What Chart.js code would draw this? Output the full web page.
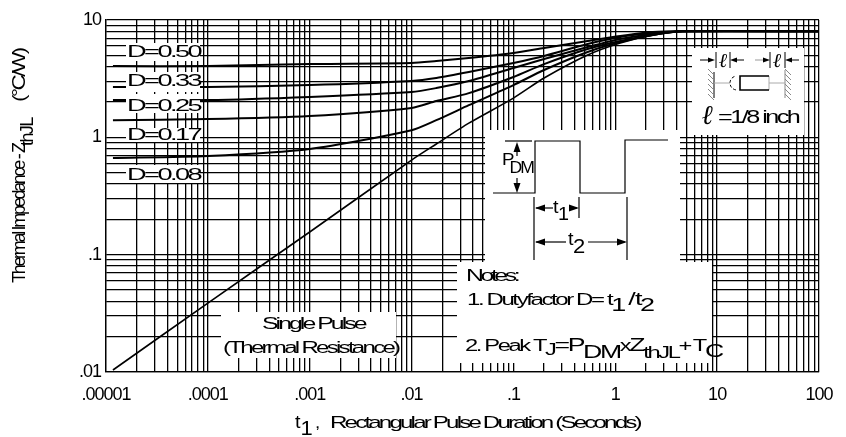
<!DOCTYPE html>
<html>
<head>
<meta charset="utf-8">
<style>
  html, body { margin: 0; padding: 0; background: #fff; }
  #wrap { width: 846px; height: 437px; }
</style>
<script src="https://cdn.jsdelivr.net/npm/chart.js@4"></script>
</head>
<body>
<div id="wrap"><canvas id="chart" width="846" height="437"></canvas></div>
<script>
const xTickLabels = ['.00001', '.0001', '.001', '.01', '.1', '1', '10', '100'];
const yTickLabels = ['.01', '.1', '1', '10'];
const dutyLabels = ['D=0.50', 'D=0.33', 'D=0.25', 'D=0.17', 'D=0.08'];

// seconds
const t1 = [0.0000117, 0.0001, 0.001, 0.01, 0.0175, 0.0365, 0.1, 0.2, 0.535, 1.12, 2.34, 4.6, 100];
const d50 = [4.05, 4.05, 4.21, 4.30, 4.47, 4.74, 5.23, 5.77, 6.62, 7.31, 7.90, 8, 8];
const d33 = [2.69, 2.69, 2.79, 3.02, 3.20, 3.60, 4.30, 4.93, 6.24, 7.17, 7.75, 8, 8];
const d25 = [2.08, 2.08, 2.21, 2.43, 2.63, 3.02, 3.90, 4.65, 5.88, 6.89, 7.60, 8, 8];
const d17 = [1.40, 1.43, 1.52, 1.78, 2.04, 2.38, 3.27, 4.21, 5.66, 6.62, 7.45, 8, 8];
const d08 = [0.666, 0.693, 0.795, 1.15, 1.40, 1.88, 2.79, 3.75, 5.34, 6.49, 7.45, 8, 8];
const single = [0.0104, 0.0387, 0.156, 0.64, 0.877, 1.32, 2.16, 3.20, 5.03, 6.37, 7.45, 8, 8];

const allSeries = [d50, d33, d25, d17, d08, single];
const widths = [2, 2, 2, 2, 2, 1.6];

const FONT = '"Liberation Sans", Arial, sans-serif';

function decadeTicks(first, last) {
    const ticks = [];
    for (let e = first; e < last; e++) {
        for (let m = 1; m < 10; m++) {
            ticks.push({ value: Number(m + 'e' + e) });
        }
    }
    ticks.push({ value: Number('1e' + last) });
    return ticks;
}

// text with sub/superscript pieces: [string, size, dy, extra gap]
function runs(ctx, x, y, list, spacing, hscale) {
    ctx.save();
    ctx.translate(x, y);
    ctx.scale(hscale || 1, 1);
    ctx.fillStyle = '#000';
    ctx.textAlign = 'left';
    ctx.textBaseline = 'alphabetic';
    ctx.letterSpacing = (spacing === undefined ? -1 : spacing) + 'px';
    let cx = 0;
    for (const r of list) {
        ctx.font = r[1] + 'px ' + FONT;
        ctx.fillText(r[0], cx, r[2] || 0);
        cx += ctx.measureText(r[0]).width + (r[3] || 0);
    }
    ctx.restore();
}

function arrowHead(ctx, x, y, dx, dy, len) {
    const l = len || 10, w = l * 0.35;
    ctx.beginPath();
    ctx.moveTo(x, y);
    ctx.lineTo(x - dx * l - dy * w, y - dy * l - dx * w);
    ctx.lineTo(x - dx * l + dy * w, y - dy * l + dx * w);
    ctx.closePath();
    ctx.fill();
}

function segs(ctx, pts) {
    ctx.beginPath();
    pts.forEach((p, i) => i ? ctx.lineTo(p[0], p[1]) : ctx.moveTo(p[0], p[1]));
    ctx.stroke();
}

const overlay = {
    id: 'overlay',
    beforeDraw(chart) {
        chart.ctx.letterSpacing = '-1px';
    },
    afterDatasetsDraw(chart) {
        const ctx = chart.ctx;
        ctx.save();
        ctx.letterSpacing = '0px';

        // white boxes over the grid
        ctx.fillStyle = '#fff';
        [[126, 43, 74, 18], [126, 72, 74, 20], [126, 94, 74, 19], [126, 128, 74, 14], [126, 165, 74, 18],
         [692, 48, 112, 87], [485, 130, 195, 132], [457, 262, 255, 101], [221, 312, 175, 46]
        ].forEach(b => ctx.fillRect(b[0], b[1], b[2], b[3]));

        // duty labels
        [57, 86, 111, 140, 180].forEach((y, i) => runs(ctx, 127, y, [[dutyLabels[i], 17]], -1.6, 1.6));

        runs(ctx, 262, 329, [['Single Pulse', 16]], -1.9, 1.55);
        runs(ctx, 223, 353, [['(Thermal Resistance)', 16]], -1.8, 1.5);

        runs(ctx, 466, 281, [['Notes:', 16]], -2.2, 1.55);
        runs(ctx, 467, 305, [['1. Dutyfactor D= t', 16], ['1', 18, 6, 3], ['/', 18, 0, 1], ['t', 18, 0], ['2', 18, 6]], -1.6, 1.5);
        runs(ctx, 465, 351, [['2. Peak T', 16], ['J', 16, 4], ['=P', 18], ['DM', 18, 7], ['x', 16], ['Z', 18], ['thJL', 16, 7], ['+', 16, 0, 2], ['T', 16], ['C', 18, 6]], -1.6, 1.48);

        // pulse waveform
        ctx.strokeStyle = '#000';
        ctx.fillStyle = '#000';
        ctx.lineWidth = 1.2;
        segs(ctx, [[493, 193], [535, 193], [535, 141], [580, 141], [580, 193], [625, 193], [625, 140], [668, 140]]);
        segs(ctx, [[505, 141], [532, 141]]);
        segs(ctx, [[517, 150], [517, 156]]);
        segs(ctx, [[517, 178], [517, 184]]);
        arrowHead(ctx, 517, 142, 0, -1);
        arrowHead(ctx, 517, 193, 0, 1);
        runs(ctx, 502, 165, [['P', 17, 0, -3], ['DM', 16, 8]], -1.6, 1.1);

        segs(ctx, [[534, 197], [534, 260]]);
        segs(ctx, [[579, 197], [579, 218]]);
        segs(ctx, [[627, 197], [627, 260]]);
        segs(ctx, [[536, 208], [553, 208]]);
        segs(ctx, [[570, 208], [577, 208]]);
        arrowHead(ctx, 535, 208, -1, 0);
        arrowHead(ctx, 579, 208, 1, 0);
        runs(ctx, 553, 213, [['t', 18], ['1', 18, 7]], -0.5, 1.1);
        segs(ctx, [[536, 242], [566, 242]]);
        segs(ctx, [[588, 242], [625, 242]]);
        arrowHead(ctx, 535, 242, -1, 0);
        arrowHead(ctx, 627, 242, 1, 0);
        runs(ctx, 568, 245, [['t', 18], ['2', 20, 8]], -0.5, 1.1);

        // lead length inset
        ctx.lineWidth = 1;
        segs(ctx, [[700, 60], [708, 60]]);
        segs(ctx, [[737, 60], [744, 60]]);
        ctx.strokeStyle = '#999';
        segs(ctx, [[755, 60], [763, 60]]);
        ctx.strokeStyle = '#000';
        segs(ctx, [[792, 60], [799, 60]]);
        arrowHead(ctx, 715, 60, 1, 0, 7);
        arrowHead(ctx, 730, 60, -1, 0, 7);
        arrowHead(ctx, 770, 60, 1, 0, 7);
        arrowHead(ctx, 785, 60, -1, 0, 7);
        segs(ctx, [[716, 52], [716, 68]]);
        segs(ctx, [[730, 52], [730, 68]]);
        segs(ctx, [[770, 52], [770, 68]]);
        segs(ctx, [[785, 52], [785, 68]]);
        ctx.font = 'italic 20px "DejaVu Serif", serif';
        ctx.fillStyle = '#000';
        ctx.textAlign = 'center';
        ctx.textBaseline = 'alphabetic';
        ctx.fillText('\u2113', 723, 67);
        ctx.fillText('\u2113', 777, 67);
        ctx.font = 'italic 27px "DejaVu Serif", serif';
        ctx.fillText('\u2113', 707, 124);
        runs(ctx, 718, 123, [['=1/8 inch', 18]], -1.8, 1.4);

        segs(ctx, [[714, 72], [714, 98]]);
        ctx.strokeStyle = '#888';
        segs(ctx, [[785, 70], [785, 98]]);
        for (let y = 72; y < 98; y += 5) {
            segs(ctx, [[708, y - 3], [714, y + 3]]);
            segs(ctx, [[785, y - 3], [791, y + 3]]);
        }
        ctx.strokeStyle = '#aaa';
        segs(ctx, [[714, 83], [730, 83]]);
        segs(ctx, [[769, 83], [785, 83]]);
        segs(ctx, [[769, 76], [769, 90]]);
        ctx.strokeStyle = '#000';
        ctx.lineWidth = 1.6;
        segs(ctx, [[769, 76], [740, 76], [740, 90], [769, 90]]);
        ctx.lineWidth = 1;
        ctx.setLineDash([3, 2]);
        ctx.beginPath();
        ctx.arc(737, 83, 7, Math.PI * 0.55, Math.PI * 1.45);
        ctx.stroke();
        ctx.setLineDash([]);

        // axis titles
        runs(ctx, 295, 428, [['t', 18], ['1', 20, 7, 2], [',', 17]], 0, 1.1);
        runs(ctx, 330, 428, [['Rectangular Pulse Duration (Seconds)', 17]], -2, 1.42);
        ctx.translate(25, 283);
        ctx.rotate(-Math.PI / 2);
        runs(ctx, 0, 0, [['Thermal Impedance - Z', 18]], -2.3);
        runs(ctx, 137, 0, [['thJL', 18, 8]], -1.6);
        runs(ctx, 181, 0, [['(\u00B0C/W)', 18]], -2, 1.25);
        ctx.restore();
    }
};

new Chart(document.getElementById('chart'), {
    type: 'scatter',
    data: {
        datasets: allSeries.map((s, i) => ({
            label: i < 5 ? dutyLabels[i] : 'Single Pulse',
            data: s.map((v, j) => ({ x: t1[j], y: v })),
            showLine: true,
            borderColor: '#000',
            borderWidth: widths[i],
            pointRadius: 0,
            tension: 0.25
        }))
    },
    plugins: [overlay],
    options: {
        responsive: false,
        animation: false,
        layout: { padding: { top: 20, right: 19, left: 0, bottom: 0 } },
        plugins: { legend: { display: false }, tooltip: { enabled: false } },
        scales: {
            x: {
                type: 'logarithmic',
                min: 0.00001,
                max: 100,
                afterBuildTicks: axis => { axis.ticks = decadeTicks(-5, 2); },
                afterFit: axis => { axis.height = 65; },
                grid: { color: '#000', lineWidth: 1.3, drawTicks: false },
                border: { color: '#000', width: 1.3 },
                ticks: {
                    autoSkip: false,
                    maxRotation: 0,
                    padding: 12,
                    color: '#000',
                    font: { family: FONT, size: 18 },
                    callback: (v, i) => (i % 9 === 0 ? xTickLabels[i / 9] : '')
                }
            },
            y: {
                type: 'logarithmic',
                min: 0.01,
                max: 10,
                afterBuildTicks: axis => { axis.ticks = decadeTicks(-2, 1); },
                afterFit: axis => { axis.width = 106; },
                grid: { color: '#000', lineWidth: 1.3, drawTicks: false },
                border: { color: '#000', width: 1.3 },
                ticks: {
                    autoSkip: false,
                    padding: 5,
                    color: '#000',
                    font: { family: FONT, size: 18 },
                    callback: (v, i) => (i % 9 === 0 ? yTickLabels[i / 9] : '')
                }
            }
        }
    }
});
</script>
</body>
</html>
